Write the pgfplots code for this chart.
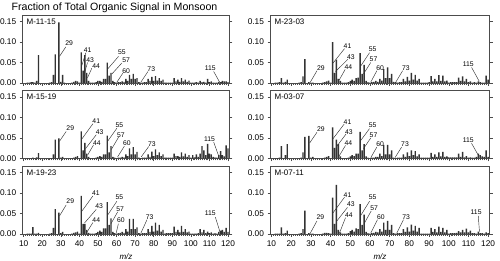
\documentclass[border=0pt]{standalone}
\usepackage{fontspec}
\setmainfont{Liberation Sans}
\usepackage{pgfplots}
\usepackage{pgfplotstable}
\pgfplotsset{compat=1.18}

\pgfplotstableread{
mz v
12 0.001
13 0.001
14 0.002
15 0.002
16 0.001
17 0.005
18 0.068
24 0.001
25 0.002
26 0.020
27 0.070
29 0.148
30 0.003
31 0.020
32 0.001
36 0.001
37 0.003
38 0.005
39 0.004
40 0.001
41 0.075
42 0.030
43 0.068
44 0.025
45 0.005
46 0.001
47 0.001
48 0.001
49 0.002
50 0.005
51 0.005
52 0.003
53 0.010
54 0.010
55 0.050
56 0.018
57 0.025
58 0.005
59 0.002
60 0.001
61 0.002
62 0.002
63 0.004
64 0.003
65 0.010
66 0.005
67 0.020
68 0.010
69 0.022
70 0.010
71 0.012
72 0.002
73 0.001
74 0.001
75 0.002
76 0.002
77 0.010
78 0.005
79 0.015
80 0.005
81 0.017
82 0.006
83 0.012
84 0.005
85 0.008
86 0.001
87 0.001
88 0.001
89 0.001
90 0.001
91 0.012
92 0.004
93 0.008
94 0.003
95 0.012
96 0.004
97 0.008
98 0.003
99 0.006
100 0.001
101 0.001
102 0.001
103 0.002
104 0.001
105 0.005
106 0.002
107 0.003
108 0.001
109 0.010
110 0.002
111 0.004
112 0.001
113 0.001
114 0.001
115 0.003
116 0.002
117 0.005
118 0.004
119 0.004
120 0.002
}\tA

\pgfplotstableread{
mz v
12 0.001
13 0.001
14 0.002
15 0.012
16 0.001
17 0.003
18 0.008
24 0.001
25 0.002
26 0.016
27 0.058
29 0.002
30 0.001
31 0.001
36 0.001
37 0.002
38 0.004
39 0.006
40 0.001
41 0.100
42 0.025
43 0.057
44 0.010
45 0.005
46 0.001
47 0.001
48 0.001
49 0.002
50 0.005
51 0.008
52 0.005
53 0.012
54 0.013
55 0.073
56 0.022
57 0.044
58 0.005
59 0.002
60 0.001
61 0.002
62 0.003
63 0.005
64 0.003
65 0.010
66 0.006
67 0.034
68 0.012
69 0.038
70 0.012
71 0.022
72 0.003
73 0.002
74 0.001
75 0.002
76 0.002
77 0.010
78 0.004
79 0.015
80 0.006
81 0.025
82 0.008
83 0.020
84 0.006
85 0.010
86 0.001
87 0.001
88 0.001
89 0.001
90 0.002
91 0.017
92 0.004
93 0.010
94 0.004
95 0.019
96 0.005
97 0.018
98 0.004
99 0.006
100 0.001
101 0.002
102 0.002
103 0.002
104 0.002
105 0.013
106 0.005
107 0.016
108 0.004
109 0.010
110 0.002
111 0.004
112 0.001
113 0.002
114 0.001
115 0.004
116 0.002
117 0.001
118 0.001
119 0.018
120 0.008
}\tB

\pgfplotstableread{
mz v
12 0.001
13 0.001
14 0.001
15 0.002
16 0.001
17 0.003
18 0.013
24 0.001
25 0.001
26 0.010
27 0.046
29 0.049
30 0.002
31 0.004
36 0.001
37 0.002
38 0.004
39 0.006
40 0.001
41 0.066
42 0.020
43 0.038
44 0.012
45 0.004
46 0.001
47 0.001
48 0.001
49 0.002
50 0.004
51 0.006
52 0.004
53 0.010
54 0.010
55 0.056
56 0.015
57 0.030
58 0.004
59 0.002
60 0.001
61 0.002
62 0.002
63 0.004
64 0.003
65 0.010
66 0.006
67 0.025
68 0.010
69 0.028
70 0.010
71 0.016
72 0.002
73 0.001
74 0.002
75 0.002
76 0.002
77 0.010
78 0.004
79 0.017
80 0.006
81 0.022
82 0.008
83 0.015
84 0.006
85 0.010
86 0.002
87 0.002
88 0.002
89 0.002
90 0.002
91 0.012
92 0.006
93 0.006
94 0.004
95 0.015
96 0.005
97 0.012
98 0.004
99 0.008
100 0.002
101 0.008
102 0.003
103 0.010
104 0.004
105 0.012
106 0.030
107 0.020
108 0.008
109 0.036
110 0.012
111 0.010
112 0.004
113 0.003
114 0.002
115 0.008
116 0.018
117 0.008
118 0.005
119 0.032
120 0.025
}\tC

\pgfplotstableread{
mz v
12 0.001
13 0.001
14 0.002
15 0.030
16 0.001
17 0.008
18 0.035
24 0.001
25 0.002
26 0.015
27 0.053
29 0.055
30 0.002
31 0.004
36 0.001
37 0.002
38 0.004
39 0.006
40 0.001
41 0.076
42 0.026
43 0.046
44 0.035
45 0.005
46 0.001
47 0.001
48 0.001
49 0.002
50 0.005
51 0.008
52 0.006
53 0.012
54 0.012
55 0.065
56 0.020
57 0.035
58 0.005
59 0.002
60 0.001
61 0.002
62 0.002
63 0.004
64 0.004
65 0.012
66 0.006
67 0.033
68 0.010
69 0.033
70 0.010
71 0.020
72 0.002
73 0.001
74 0.002
75 0.002
76 0.002
77 0.010
78 0.004
79 0.015
80 0.006
81 0.020
82 0.008
83 0.018
84 0.005
85 0.010
86 0.002
87 0.002
88 0.002
89 0.002
90 0.002
91 0.014
92 0.004
93 0.010
94 0.004
95 0.015
96 0.005
97 0.016
98 0.004
99 0.005
100 0.003
101 0.003
102 0.003
103 0.003
104 0.003
105 0.012
106 0.004
107 0.016
108 0.003
109 0.006
110 0.002
111 0.003
112 0.002
113 0.002
114 0.004
115 0.012
116 0.008
117 0.005
118 0.004
119 0.020
120 0.004
}\tD

\pgfplotstableread{
mz v
12 0.001
13 0.001
14 0.001
15 0.017
16 0.001
17 0.001
18 0.003
24 0.001
25 0.002
26 0.015
27 0.061
29 0.052
30 0.002
31 0.005
36 0.001
37 0.003
38 0.004
39 0.006
40 0.001
41 0.093
42 0.025
43 0.025
44 0.010
45 0.003
46 0.001
47 0.001
48 0.001
49 0.002
50 0.005
51 0.008
52 0.005
53 0.014
54 0.014
55 0.078
56 0.022
57 0.038
58 0.005
59 0.002
60 0.001
61 0.002
62 0.003
63 0.005
64 0.003
65 0.012
66 0.006
67 0.037
68 0.012
69 0.037
70 0.012
71 0.016
72 0.002
73 0.001
74 0.002
75 0.002
76 0.002
77 0.012
78 0.005
79 0.020
80 0.006
81 0.028
82 0.008
83 0.022
84 0.006
85 0.010
86 0.001
87 0.002
88 0.002
89 0.002
90 0.002
91 0.018
92 0.005
93 0.010
94 0.004
95 0.020
96 0.005
97 0.012
98 0.004
99 0.006
100 0.001
101 0.001
102 0.001
103 0.001
104 0.002
105 0.012
106 0.004
107 0.010
108 0.002
109 0.006
110 0.002
111 0.004
112 0.001
113 0.002
114 0.001
115 0.005
116 0.008
117 0.010
118 0.005
119 0.015
120 0.005
}\tE

\pgfplotstableread{
mz v
12 0.001
13 0.001
14 0.001
15 0.016
16 0.001
17 0.002
18 0.008
24 0.001
25 0.002
26 0.012
27 0.057
29 0.002
30 0.001
31 0.001
36 0.001
37 0.003
38 0.003
39 0.002
40 0.001
41 0.089
42 0.025
43 0.120
44 0.010
45 0.004
46 0.001
47 0.001
48 0.001
49 0.002
50 0.007
51 0.010
52 0.006
53 0.014
54 0.012
55 0.073
56 0.022
57 0.047
58 0.005
59 0.002
60 0.001
61 0.002
62 0.003
63 0.005
64 0.004
65 0.012
66 0.006
67 0.028
68 0.010
69 0.032
70 0.010
71 0.022
72 0.002
73 0.001
74 0.002
75 0.002
76 0.002
77 0.012
78 0.005
79 0.016
80 0.006
81 0.023
82 0.008
83 0.020
84 0.006
85 0.015
86 0.001
87 0.001
88 0.001
89 0.001
90 0.001
91 0.015
92 0.005
93 0.012
94 0.004
95 0.018
96 0.005
97 0.015
98 0.004
99 0.010
100 0.001
101 0.002
102 0.002
103 0.002
104 0.003
105 0.007
106 0.004
107 0.010
108 0.004
109 0.013
110 0.004
111 0.008
112 0.002
113 0.002
114 0.001
115 0.006
116 0.002
117 0.002
118 0.001
119 0.004
120 0.002
}\tF

\newcommand{\ann}[7]{%
  \draw[black!80, line width=0.45pt] (axis cs:#4,#5) -- (axis cs:#6,#7);
  \node[font=\fontsize{6.8}{7}\selectfont, inner sep=0.3pt] at (axis cs:#2,#3) {#1};
}

\pgfplotsset{
  panel/.style={
    scale only axis, height=68pt,
    xmin=9.5, xmax=120.7, ymin=0, ymax=0.166,
    axis line style={black!70, line width=0.5pt},
    tick align=outside,
    xtick={10,20,...,120}, minor x tick num=9,
    xtick pos=left,
    ytick={0,0.05,0.10,0.15}, ytick pos=both, yticklabel pos=left,
    major tick length=3pt, minor tick length=2pt,
    every tick/.style={black!70, line width=0.4pt},
    /pgf/number format/assume math mode=true,
    yticklabel style={/pgf/number format/.cd, fixed, fixed zerofill, precision=2},
    ticklabel style={font=\fontsize{8.3}{9}\selectfont},
    xlabel style={font=\fontsize{8}{9}\selectfont\itshape},
    ybar, bar width=0.75,
    clip=false,
  },
  toprow/.style={xticklabels={}},
}

\newcommand{\plabel}[1]{\node[anchor=west, font=\fontsize{8}{9}\selectfont, inner sep=0pt] at (axis description cs:0.018,0.905) {#1};}

\begin{document}
\begin{tikzpicture}
\useasboundingbox (0,0) rectangle (500pt,-261pt);
\node[anchor=west, font=\fontsize{10.6}{12}\selectfont, inner sep=0pt] at (11.5pt,-7.5pt) {Fraction of Total Organic Signal in Monsoon};

% Left column
\begin{axis}[panel, toprow, width=206.6pt, at={(22.7pt,-15pt)}, anchor=north west]
\addplot[fill=black!80, draw=none] table[x=mz, y=v] {\tA};
\plabel{M-11-15}
\ann{29}{34.5}{0.098}{32.7}{0.088}{29.3}{0.065}
\ann{41}{44.4}{0.081}{43.5}{0.074}{41}{0.038}
\ann{43}{45.8}{0.056}{44.4}{0.050}{42.6}{0.022}
\ann{44}{49}{0.041}{46.7}{0.036}{44.4}{0.013}
\ann{55}{62.9}{0.074}{61.1}{0.065}{55.2}{0.034}
\ann{57}{65.2}{0.056}{62.9}{0.049}{57.5}{0.022}
\ann{60}{65.2}{0.030}{63.4}{0.024}{60.2}{0.002}
\ann{73}{78.7}{0.034}{76.9}{0.028}{73.1}{0.002}
\ann{115}{110.5}{0.036}{112.3}{0.028}{115.5}{0.002}
\end{axis}

\begin{axis}[panel, toprow, width=206.6pt, at={(22.7pt,-90.5pt)}, anchor=north west]
\addplot[fill=black!80, draw=none] table[x=mz, y=v] {\tC};
\plabel{M-15-19}
\ann{29}{35.1}{0.074}{32.9}{0.066}{29.3}{0.042}
\ann{41}{49.1}{0.090}{47.3}{0.085}{41.4}{0.048}
\ann{43}{50.9}{0.064}{49.1}{0.058}{43.3}{0.024}
\ann{44}{49.4}{0.038}{47.6}{0.033}{44.4}{0.008}
\ann{55}{61.6}{0.082}{60.2}{0.074}{55.2}{0.042}
\ann{57}{62.4}{0.058}{61.1}{0.052}{57.2}{0.022}
\ann{60}{65.6}{0.037}{64.2}{0.030}{60.6}{0.004}
\ann{73}{79}{0.034}{77.3}{0.029}{73.3}{0.004}
\ann{115}{110.1}{0.048}{112.3}{0.040}{115}{0.006}
\end{axis}

\begin{axis}[panel, width=206.6pt, at={(22.7pt,-166pt)}, anchor=north west, xlabel={m/z}]
\addplot[fill=black!80, draw=none] table[x=mz, y=v] {\tE};
\plabel{M-19-23}
\ann{29}{35.1}{0.080}{32.9}{0.071}{29.3}{0.044}
\ann{41}{48.9}{0.100}{47.3}{0.093}{41.4}{0.056}
\ann{43}{50.7}{0.067}{49.1}{0.060}{42.8}{0.027}
\ann{44}{49.1}{0.035}{47.3}{0.028}{43.7}{0.002}
\ann{55}{61.6}{0.090}{60.2}{0.080}{55.2}{0.046}
\ann{57}{62}{0.061}{60.6}{0.054}{57}{0.025}
\ann{60}{62.4}{0.033}{61}{0.025}{59.8}{0.002}
\ann{73}{77.8}{0.042}{76.4}{0.035}{73.1}{0.002}
\ann{115}{110.5}{0.051}{113.2}{0.041}{115.9}{0.002}
\end{axis}

% Right column
\begin{axis}[panel, toprow, width=219pt, at={(270.5pt,-15pt)}, anchor=north west]
\addplot[fill=black!80, draw=none] table[x=mz, y=v] {\tB};
\plabel{M-23-03}
\ann{29}{35.1}{0.036}{33.1}{0.030}{29.7}{0.002}
\ann{41}{48.6}{0.090}{47.1}{0.084}{41.3}{0.049}
\ann{43}{50.3}{0.064}{48.8}{0.058}{42.5}{0.028}
\ann{44}{49.1}{0.038}{47.4}{0.033}{44}{0.004}
\ann{55}{61.4}{0.082}{59.8}{0.074}{55.4}{0.042}
\ann{57}{61.8}{0.057}{60.4}{0.050}{56.7}{0.022}
\ann{60}{65.2}{0.037}{63.5}{0.030}{60.4}{0.002}
\ann{73}{78.2}{0.036}{76.6}{0.030}{73.1}{0.002}
\ann{115}{109.9}{0.046}{111.6}{0.038}{115.5}{0.004}
\end{axis}

\begin{axis}[panel, toprow, width=219pt, at={(270.5pt,-90.5pt)}, anchor=north west]
\addplot[fill=black!80, draw=none] table[x=mz, y=v] {\tD};
\plabel{M-03-07}
\ann{29}{35.1}{0.072}{33.1}{0.064}{29.4}{0.038}
\ann{41}{48.6}{0.089}{46.9}{0.084}{41.2}{0.048}
\ann{43}{49.3}{0.065}{47.9}{0.060}{42.9}{0.028}
\ann{44}{49.1}{0.038}{47.6}{0.032}{44.2}{0.005}
\ann{55}{61.4}{0.081}{59.8}{0.073}{55}{0.042}
\ann{57}{61.8}{0.056}{60.4}{0.050}{56.7}{0.024}
\ann{60}{65.2}{0.034}{63.5}{0.028}{60.4}{0.002}
\ann{73}{77.8}{0.034}{76.1}{0.028}{72.7}{0.002}
\ann{115}{109.9}{0.045}{111.6}{0.037}{115}{0.008}
\end{axis}

\begin{axis}[panel, width=219pt, at={(270.5pt,-166pt)}, anchor=north west, xlabel={m/z}]
\addplot[fill=black!80, draw=none] table[x=mz, y=v] {\tF};
\plabel{M-07-11}
\ann{29}{34.8}{0.040}{33.1}{0.032}{29.7}{0.002}
\ann{41}{48.6}{0.096}{47.1}{0.090}{41.3}{0.052}
\ann{43}{50.3}{0.073}{48.6}{0.065}{42.9}{0.030}
\ann{44}{49.3}{0.046}{47.6}{0.040}{44.5}{0.002}
\ann{55}{61.4}{0.090}{59.8}{0.080}{55.4}{0.046}
\ann{57}{62.1}{0.063}{60.6}{0.056}{57}{0.025}
\ann{60}{65.5}{0.042}{63.8}{0.035}{60.4}{0.002}
\ann{73}{78.4}{0.042}{77}{0.035}{73.6}{0.002}
\ann{115}{113.9}{0.054}{115}{0.044}{115.6}{0.006}
\end{axis}
\end{tikzpicture}
\end{document}
